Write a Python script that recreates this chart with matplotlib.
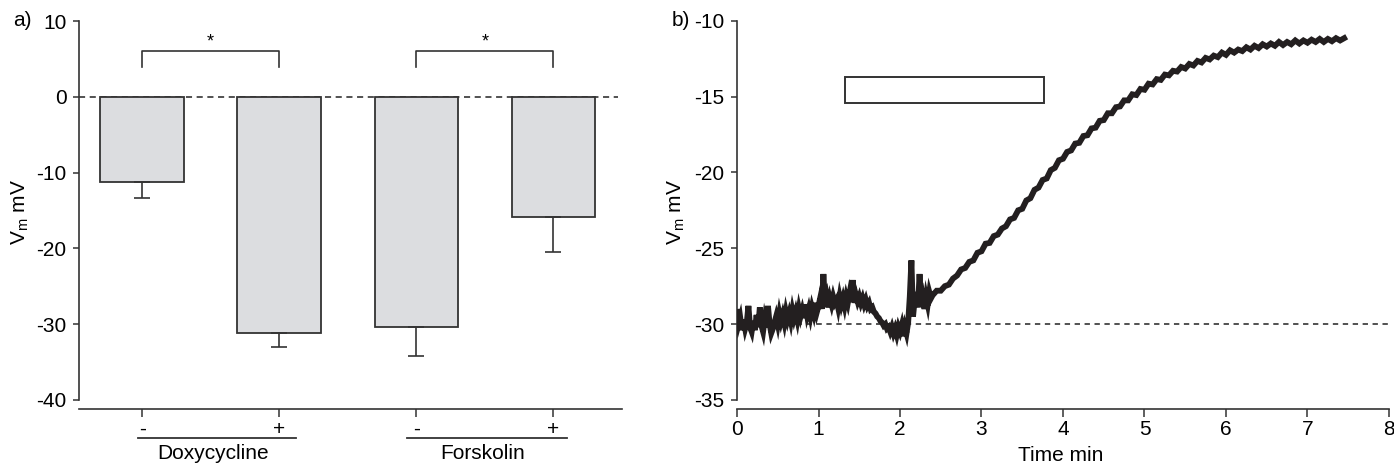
import numpy as np
import matplotlib
matplotlib.use("Agg")
from matplotlib import pyplot as plt
from matplotlib.transforms import blended_transform_factory

plt.rcParams["font.family"] = ["Liberation Sans", "DejaVu Sans"]
plt.rcParams["mathtext.default"] = "regular"
plt.rcParams["axes.unicode_minus"] = False
plt.rcParams["font.size"] = 15

# panel a) bar data
conditions = ["-", "+", "-", "+"]
vm_mean = [-11.2, -31.2, -30.4, -15.8]
vm_sem = [2.2, 1.8, 3.8, 4.7]
groups = ["Doxycycline", "Forskolin"]
group_span = [(-0.03, 1.12), (1.93, 3.10)]
sig_pairs = [(0, 1), (2, 3)]

# panel b) trace, sampled every 0.02 min up to 2.38 min, then every 0.05 min
trace_start = [
    -29.2, -30.0, -29.6, -30.4, -29.7, -30.3, -29.9, -28.8, -30.2, -30.5,
    -29.8, -30.4, -29.4, -30.2, -28.9, -30.1, -30.5, -29.7, -30.2, -28.8,
    -30.0, -30.6, -30.3, -29.9, -29.5, -30.0, -29.3, -29.8, -29.4, -29.9,
    -29.2, -29.7, -29.3, -29.8, -29.1, -29.6, -29.2, -29.7, -29.0, -29.5,
    -29.1, -29.6, -28.7, -29.4, -29.0, -29.5, -28.9, -29.3, -28.6, -29.2,
    -28.8, -28.3, -29.0, -26.7, -28.6, -28.2, -28.9, -28.3, -28.7, -28.2,
    -28.6, -28.4, -28.9, -28.2, -28.7, -28.3, -28.8, -28.2, -28.6, -28.0,
    -28.5, -27.1, -28.6, -28.1, -28.5, -28.2, -28.6, -28.3, -28.7, -28.4,
    -28.8, -28.6, -29.0, -28.9, -29.2, -29.3, -29.5, -29.6, -29.8, -29.9,
    -30.1, -30.0, -30.3, -30.2, -30.5, -30.2, -30.6, -30.3, -30.7, -30.2,
    -30.5, -30.1, -30.8, -30.2, -30.6, -29.9, -28.2, -25.8, -29.5, -28.4,
    -27.9, -28.9, -26.7, -28.8, -28.3, -29.0, -28.2, -28.7, -27.9, -28.3,
]
trace_rest = [
    -28.1, -27.8, -27.8, -27.5, -27.4, -27.0, -26.8, -26.4, -26.3, -25.9,
    -25.8, -25.3, -25.2, -24.7, -24.65, -24.2, -24.1, -23.7, -23.55, -23.1,
    -23.0, -22.5, -22.4, -21.85, -21.7, -21.15, -21.0, -20.5, -20.4, -19.85,
    -19.7, -19.2, -19.1, -18.65, -18.55, -18.1, -18.05, -17.6, -17.55, -17.1,
    -17.05, -16.6, -16.55, -16.1, -16.1, -15.7, -15.65, -15.25, -15.25, -14.85,
    -14.9, -14.5, -14.55, -14.15, -14.2, -13.85, -13.9, -13.55, -13.6, -13.3,
    -13.35, -13.05, -13.15, -12.85, -12.95, -12.65, -12.75, -12.45, -12.55, -12.3,
    -12.4, -12.1, -12.25, -11.95, -12.1, -11.9, -12.0, -11.75, -11.9, -11.65,
    -11.8, -11.55, -11.7, -11.5, -11.65, -11.4, -11.6, -11.4, -11.55, -11.3,
    -11.5, -11.3, -11.45, -11.25, -11.4, -11.2, -11.4, -11.2, -11.35, -11.15,
    -11.3, -11.15,
]
drug_on, drug_off = 1.33, 3.77
baseline_vm = -30

axis_col = "#333333"

fig = plt.figure(figsize=(13.94, 4.65), dpi=100)
ax1 = fig.add_axes([0.0567, 0.1204, 0.3895, 0.8376])
ax2 = fig.add_axes([0.5287, 0.1204, 0.4677, 0.8376])

# ---- panel a ----
x = np.arange(len(vm_mean))
ax1.bar(x, vm_mean, width=0.61, color="#dcdde0", edgecolor="#333333", linewidth=1.3, zorder=2)
ax1.errorbar(x, vm_mean, yerr=[vm_sem, np.zeros(len(vm_sem))], fmt="none",
             ecolor="#333333", elinewidth=1.2, capsize=6, capthick=1.2, zorder=3)
ax1.plot([-0.46, 3.47], [0, 0], color="#222222", lw=1.1, dashes=(4, 3), zorder=1, clip_on=False)

# significance brackets
for a, b in sig_pairs:
    ax1.plot([a, a, b, b], [4, 6, 6, 4], color="#333333", lw=1.2)
    ax1.text((a + b) / 2, 7.3, "*", ha="center", va="center", fontsize=13)

ax1.set_xlim(-0.46, 3.50)
ax1.set_ylim(-41.2, 10.2)
ax1.set_yticks([10, 0, -10, -20, -30, -40])
ax1.set_xticks(x)
ax1.set_xticklabels(conditions)
ax1.spines["left"].set_bounds(-40, 10)

# group underlines and labels
trans = blended_transform_factory(ax1.transData, ax1.transAxes)
for name, (lo, hi) in zip(groups, group_span):
    ax1.plot([lo, hi], [-0.0745, -0.0745], color=axis_col, lw=1.3, transform=trans, clip_on=False)
    ax1.text((lo + hi) / 2 - 0.03, -0.113, name, ha="center", va="center", transform=trans)

ax1.set_ylabel("V$_m$ mV")
ax1.yaxis.set_label_coords(-0.088, 0.506)

# ---- panel b ----
t_start = np.arange(len(trace_start)) * 0.02
t_rest = 2.40 + np.arange(len(trace_rest)) * 0.05
t = np.concatenate([t_start, t_rest])
vm = np.concatenate([trace_start, trace_rest])

ax2.plot(t, vm, color="#231f20", lw=4.2, solid_joinstyle="miter", zorder=3)
ax2.plot([0, 8], [baseline_vm, baseline_vm], color="#222222", lw=1.1, dashes=(3.5, 3), zorder=1)
ax2.add_patch(plt.Rectangle((drug_on, -15.4), drug_off - drug_on, 1.7, facecolor="white",
                            edgecolor="#333333", lw=1.4, zorder=2))

ax2.set_xlim(0, 8)
ax2.set_ylim(-35.6, -9.92)
ax2.set_xticks(range(0, 9))
ax2.set_yticks([-10, -15, -20, -25, -30, -35])
ax2.spines["left"].set_bounds(-35, -10)
ax2.set_xlabel("Time min")
ax2.xaxis.set_label_coords(0.497, -0.094)
ax2.set_ylabel("V$_m$ mV")
ax2.yaxis.set_label_coords(-0.077, 0.506)

for ax in (ax1, ax2):
    for side in ("top", "right"):
        ax.spines[side].set_visible(False)
    for side in ("left", "bottom"):
        ax.spines[side].set_color(axis_col)
        ax.spines[side].set_linewidth(1.2)
    ax.tick_params(axis="y", length=4, width=1.1, color=axis_col, pad=5)
    ax.tick_params(axis="x", length=6, width=1.1, color=axis_col, pad=2)

fig.text(13 / 1394, 1 - 21 / 465, "a)", ha="left", va="center")
fig.text(672 / 1394, 1 - 21 / 465, "b)", ha="left", va="center")

plt.savefig("out.png", dpi=100)
